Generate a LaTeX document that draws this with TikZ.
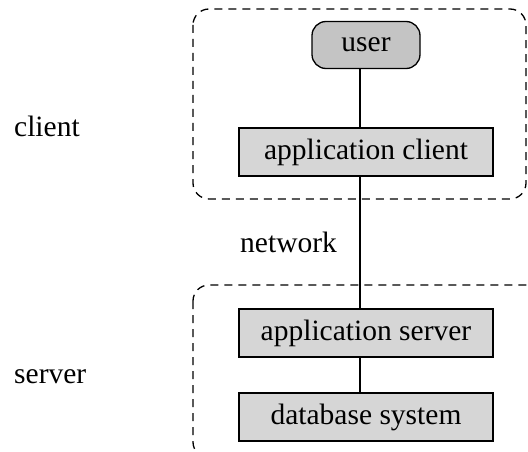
\documentclass[tikz,border=0pt]{standalone}
\usepackage{fontspec}
\setmainfont{Liberation Serif}
\usetikzlibrary{positioning}
\definecolor{boxgray}{HTML}{D6D6D6}
\definecolor{usergray}{HTML}{C4C4C4}
\begin{document}
\begin{tikzpicture}[x=1pt,y=-1pt,
  every node/.style={font=\fontsize{29.5}{33}\selectfont},
  tier/.style={draw, line width=1.6pt, fill=boxgray, minimum width=254pt, minimum height=48pt, inner sep=0pt},
  userbox/.style={draw, line width=1.3pt, fill=usergray, rounded corners=14pt, minimum width=108pt, minimum height=47pt, inner sep=0pt},
  link/.style={line width=1.8pt},
  region/.style={dashed, dash pattern=on 8pt off 6pt, line width=1.3pt, rounded corners=16pt},
  lbl/.style={anchor=west, inner sep=0pt}]
\clip (0,0) rectangle (528,452);
\fill[white] (0,0) rectangle (528,452);
\draw[region] (193,9) rectangle (526,199);
\draw[region] (193,285) rectangle (548,458);
\node[userbox] (user) at (366,45) {user};
\node[tier] (ac) at (366,152) {application client};
\node[tier] (as) at (366,333) {application server};
\node[tier] (db) at (366,417) {database system};
\draw[link] ([xshift=-6pt]user.south) -- ([xshift=-6pt]ac.north);
\draw[link] ([xshift=-6pt]ac.south) -- ([xshift=-6pt]as.north);
\draw[link] ([xshift=-6pt]as.south) -- ([xshift=-6pt]db.north);
\node[lbl] (client) at (14,126) {client};
\node[lbl] (server) at (14,377) {server};
\node[lbl] (network) at (240,242) {network};
\end{tikzpicture}
\end{document}
